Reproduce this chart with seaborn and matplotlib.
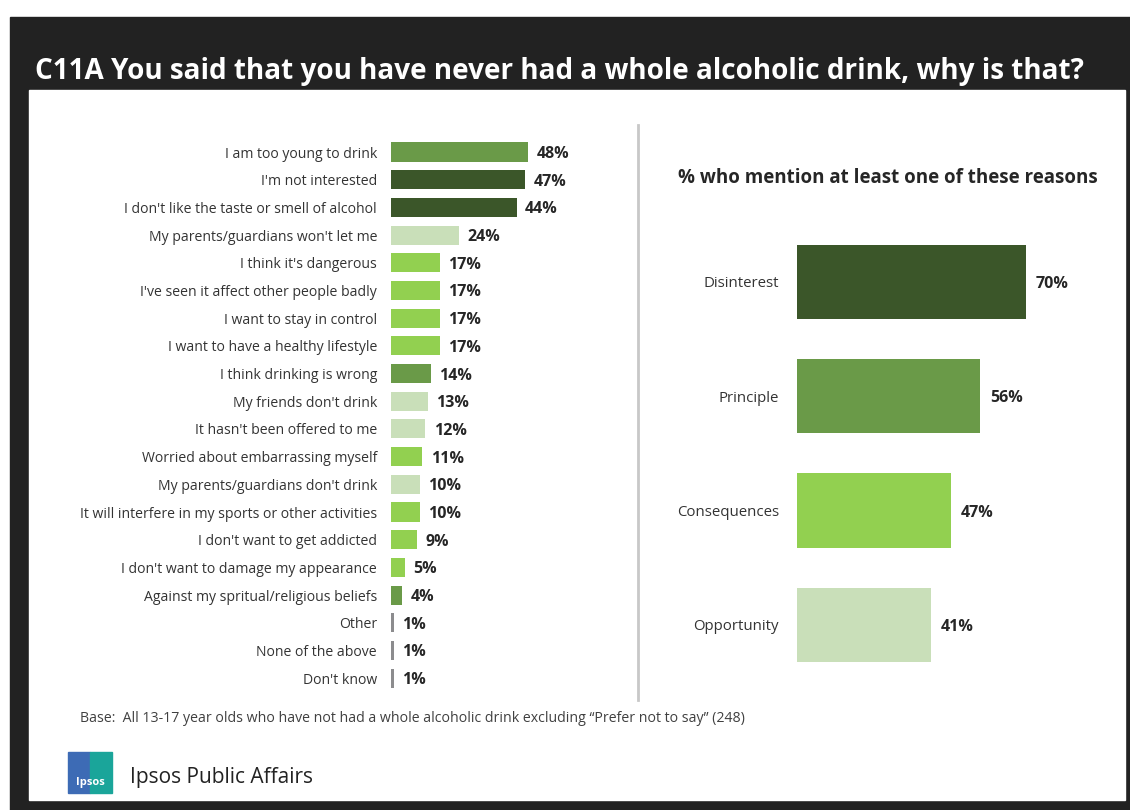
import pandas as pd
import matplotlib.pyplot as plt
import seaborn as sb
from matplotlib.patches import Rectangle
from matplotlib.lines import Line2D

# reasons for never having had a whole alcoholic drink (% of 13-17 yr olds)
reasons = ["I am too young to drink", "I'm not interested", "I don't like the taste or smell of alcohol",
           "My parents/guardians won't let me", "I think it's dangerous", "I've seen it affect other people badly",
           "I want to stay in control", "I want to have a healthy lifestyle", "I think drinking is wrong",
           "My friends don't drink", "It hasn't been offered to me", "Worried about embarrassing myself",
           "My parents/guardians don't drink", "It will interfere in my sports or other activities",
           "I don't want to get addicted", "I don't want to damage my appearance",
           "Against my spritual/religious beliefs", "Other", "None of the above", "Don't know"]
reason_pct = [48, 47, 44, 24, 17, 17, 17, 17, 14, 13, 12, 11, 10, 10, 9, 5, 4, 1, 1, 1]
reason_group = ["Principle", "Disinterest", "Disinterest", "Opportunity", "Consequences", "Consequences",
                "Consequences", "Consequences", "Principle", "Opportunity", "Opportunity", "Consequences",
                "Opportunity", "Consequences", "Consequences", "Consequences", "Principle",
                "None", "None", "None"]

groups = ["Disinterest", "Principle", "Consequences", "Opportunity"]
group_pct = [70, 56, 47, 41]

group_colors = {"Disinterest": "#3b5629", "Principle": "#6a9a48", "Consequences": "#92d050",
                "Opportunity": "#c9dfb9", "None": "#8c8c8e"}

plt.rcParams['font.family'] = ['Open Sans', 'DejaVu Sans']

W, H = 1130, 810
fig = plt.figure(figsize=(W / 100, H / 100), dpi=100)
fig.patch.set_facecolor('white')


def box(x0, y0, x1, y1):
    # pixel box (top-left origin) -> figure fraction [left, bottom, width, height]
    return [x0 / W, 1 - y1 / H, (x1 - x0) / W, (y1 - y0) / H]


# dark frame + white panel
l, b, w, h = box(10, 17, W, H)
fig.patches.append(Rectangle((l, b), w, h, transform=fig.transFigure, color='#222222', zorder=-2))
l, b, w, h = box(29, 90, 1125, 800)
fig.patches.append(Rectangle((l, b), w, h, transform=fig.transFigure, color='white', zorder=-1))

fig.text(35 / W, 1 - 71 / H, "C11A You said that you have never had a whole alcoholic drink, why is that?",
         color='white', fontsize=20.1, fontweight='bold', va='center', ha='left')

# left chart
df_left = pd.DataFrame({'reason': reasons, 'pct': reason_pct, 'group': reason_group})
ax1 = fig.add_axes(box(391, 138.2, 391 + 80 * 2.854, 692))
ax1.set_zorder(2)
ax1.patch.set_alpha(0)
sb.barplot(data=df_left, x='pct', y='reason', hue='group', palette=group_colors, dodge=False,
           width=0.69, legend=False, ax=ax1, saturation=1)
ax1.set_xlim(0, 80)
ax1.set_ylim(len(reasons) - 0.5, -0.5)
for i, v in enumerate(reason_pct):
    ax1.annotate(f"{v}%", (v, i), xytext=(6, 0), textcoords='offset points', va='center_baseline',
                 ha='left', fontsize=11.5, fontweight='bold', color='#262626')
ax1.set_xlabel('')
ax1.set_ylabel('')
ax1.set_xticks([])
ax1.tick_params(axis='y', length=0, pad=10, labelsize=10.1, labelcolor='#333333')
sb.despine(ax=ax1, left=True, bottom=True)

# separator
fig.add_artist(Line2D([638 / W, 638 / W], [1 - 125 / H, 1 - 700 / H], transform=fig.transFigure,
                      color='#c8c8c8', lw=2))

# right chart
df_right = pd.DataFrame({'group': groups, 'pct': group_pct})
ax2 = fig.add_axes(box(797, 224.8, 797 + 90 * 3.27, 682))
ax2.set_zorder(2)
ax2.patch.set_alpha(0)
sb.barplot(data=df_right, x='pct', y='group', hue='group', palette=group_colors, dodge=False,
           width=0.65, legend=False, ax=ax2, saturation=1)
ax2.set_xlim(0, 90)
ax2.set_ylim(len(groups) - 0.5, -0.5)
for i, v in enumerate(group_pct):
    ax2.annotate(f"{v}%", (v, i), xytext=(7, 0), textcoords='offset points', va='center_baseline',
                 ha='left', fontsize=11.5, fontweight='bold', color='#262626')
ax2.set_xlabel('')
ax2.set_ylabel('')
ax2.set_xticks([])
ax2.tick_params(axis='y', length=0, pad=13, labelsize=10.8, labelcolor='#333333')
sb.despine(ax=ax2, left=True, bottom=True)

fig.text(888 / W, 1 - 178 / H, "% who mention at least one of these reasons", ha='center', va='center',
         fontsize=13.5, fontweight='bold', color='#262626')

fig.text(80 / W, 1 - 719 / H,
         "Base:  All 13-17 year olds who have not had a whole alcoholic drink excluding \u201cPrefer not to say\u201d (248)",
         ha='left', va='center', fontsize=10.15, color='#404040')

# Ipsos logo
l, b, w, h = box(68, 752, 90, 793)
fig.patches.append(Rectangle((l, b), w, h, transform=fig.transFigure, color='#3d6bb5', zorder=1))
l, b, w, h = box(90, 752, 112, 793)
fig.patches.append(Rectangle((l, b), w, h, transform=fig.transFigure, color='#1aa59a', zorder=1))
fig.text(90 / W, 1 - 782 / H, "Ipsos", color='white', fontsize=8, fontweight='bold', ha='center', va='center')
fig.text(130 / W, 1 - 778 / H, "Ipsos Public Affairs", ha='left', va='center', fontsize=15, color='#222222')

fig.savefig('out.png', dpi=100, facecolor=fig.get_facecolor())
